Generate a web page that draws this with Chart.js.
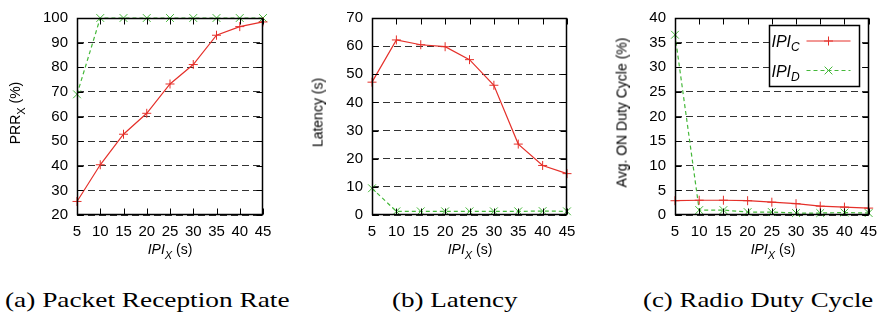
<!DOCTYPE html>
<html>
<head>
<meta charset="utf-8">
<script src="https://cdn.jsdelivr.net/npm/chart.js@4.4.0/dist/chart.umd.min.js"></script>
<style>
body { margin: 0; background: #fff; }
#page { position: relative; width: 885px; height: 321px; overflow: hidden; font-family: "Liberation Sans", Arial, sans-serif; color: #000; }
canvas { position: absolute; top: 0; }
.xt { position: absolute; top: 242px; width: 200px; text-align: center; font-size: 14px; line-height: 15px; }
.yt { position: absolute; width: 240px; text-align: center; font-size: 14px; line-height: 15px; transform: rotate(-90deg); }
.sb { font-size: 11px; position: relative; top: 5px; }
.cap { position: absolute; top: 290px; font-family: "Liberation Serif", serif; font-size: 21px; line-height: 21px; white-space: nowrap; transform-origin: left center; }
</style>
</head>
<body>
<div id="page">
  <canvas id="chartPrr" width="265" height="245" style="left:25px"></canvas>
  <canvas id="chartLat" width="270" height="245" style="left:320px"></canvas>
  <canvas id="chartDuty" width="262" height="245" style="left:623px"></canvas>

  <div class="yt" style="left:-104px;top:105px">PRR<span class="sb">X</span> (%)</div>
  <div class="yt" style="left:198px;top:105px">Latency (s)</div>
  <div class="yt" style="left:502px;top:105px">Avg. ON Duty Cycle (%)</div>

  <div class="xt" style="left:70px"><i>IPI<span class="sb">X</span></i> (s)</div>
  <div class="xt" style="left:370px"><i>IPI<span class="sb">X</span></i> (s)</div>
  <div class="xt" style="left:673px"><i>IPI<span class="sb">X</span></i> (s)</div>

  <div class="cap" style="left:5px" data-w="285">(a) Packet Reception Rate</div>
  <div class="cap" style="left:392px" data-w="125">(b) Latency</div>
  <div class="cap" style="left:643px" data-w="230">(c) Radio Duty Cycle</div>
</div>

<script>
// Datos
const ipi = [5, 10, 15, 20, 25, 30, 35, 40, 45];
const xTicks = [5, 10, 15, 20, 25, 30, 35, 40, 45];

const prrC = [25.5, 40.4, 52.8, 61.3, 73.2, 81.1, 93.0, 96.5, 98.4];
const prrD = [69.0, 100, 100, 100, 100, 100, 100, 100, 100];
const prrTicks = [20, 30, 40, 50, 60, 70, 80, 90, 100];

const latC = [47.2, 62.2, 60.5, 59.8, 55.2, 46.1, 25.2, 17.6, 14.7];
const latD = [9.5, 1.3, 1.3, 1.3, 1.3, 1.3, 1.3, 1.4, 1.3];
const latTicks = [0, 10, 20, 30, 40, 50, 60, 70];

const dutyC = [2.9, 3.0, 3.0, 2.9, 2.6, 2.3, 1.8, 1.6, 1.4];
const dutyD = [36.6, 1.0, 1.0, 0.6, 0.6, 0.4, 0.4, 0.5, 0.4];
const dutyTicks = [0, 5, 10, 15, 20, 25, 30, 35, 40];

const seriesSubs = ['C', 'D'];

const RED = '#e5302a';
const GREEN = '#45b83a';
const tickFont = { family: 'Liberation Sans', size: 15 };

// Marco estilo gnuplot: borde, marcas hacia dentro y leyenda
const gnuFrame = {
    id: 'gnuFrame',
    afterDraw(chart, args, opts) {
        const { ctx, chartArea: a, scales: { x, y } } = chart;
        const l = Math.round(a.left) + 0.5, r = Math.round(a.right) - 0.5;
        const t = Math.round(a.top) + 0.5, b = Math.round(a.bottom) - 0.5;
        ctx.save();
        ctx.strokeStyle = '#000';
        ctx.lineWidth = 1;
        ctx.beginPath();
        x.ticks.forEach(tk => {
            const px = Math.round(x.getPixelForValue(tk.value)) + 0.5;
            ctx.moveTo(px, b); ctx.lineTo(px, b - 6);
            ctx.moveTo(px, t); ctx.lineTo(px, t + 6);
        });
        y.ticks.forEach(tk => {
            const py = Math.round(y.getPixelForValue(tk.value)) + 0.5;
            ctx.moveTo(l, py); ctx.lineTo(l + 6, py);
            ctx.moveTo(r, py); ctx.lineTo(r - 6, py);
        });
        ctx.stroke();
        ctx.lineWidth = 1.5;
        ctx.strokeRect(l, t, r - l, b - t);

        if (opts.show) {
            const bx = Math.round(a.right) - 99.5, by = Math.round(a.top) + 7.5;
            ctx.lineWidth = 1.5;
            ctx.fillStyle = '#fff';
            ctx.fillRect(bx, by, 90, 61);
            ctx.strokeRect(bx, by, 90, 61);
            ctx.lineWidth = 1;
            chart.data.datasets.forEach((ds, i) => {
                const ry = by + 15.5 + i * 29.5;
                ctx.fillStyle = '#000';
                ctx.font = 'italic 16px "Liberation Sans"';
                ctx.textBaseline = 'alphabetic';
                ctx.fillText('IPI', bx + 2, ry + 6);
                const w = ctx.measureText('IPI').width;
                ctx.font = 'italic 12px "Liberation Sans"';
                ctx.fillText(seriesSubs[i], bx + 2 + w, ry + 10);

                ctx.strokeStyle = ds.borderColor;
                ctx.setLineDash(ds.borderDash || []);
                ctx.beginPath();
                ctx.moveTo(bx + 37, ry); ctx.lineTo(bx + 81, ry);
                ctx.stroke();
                ctx.setLineDash([]);
                Chart.helpers.drawPoint(ctx, {
                    pointStyle: ds.pointStyle, radius: ds.pointRadius,
                    rotation: 0, borderWidth: 1
                }, bx + 59, ry);
                ctx.strokeStyle = '#000';
            });
        }
        ctx.restore();
    }
};

function series(valuesC, valuesD) {
    return [
        {
            label: 'IPI_C',
            data: ipi.map((v, i) => ({ x: v, y: valuesC[i] })),
            borderColor: RED, borderWidth: 1.2,
            pointStyle: 'cross', pointRadius: 4.5,
            pointBorderColor: RED, pointBorderWidth: 1,
            clip: false
        },
        {
            label: 'IPI_D',
            data: ipi.map((v, i) => ({ x: v, y: valuesD[i] })),
            borderColor: GREEN, borderWidth: 1.2, borderDash: [4, 3],
            pointStyle: 'crossRot', pointRadius: 5.5,
            pointBorderColor: GREEN, pointBorderWidth: 1,
            clip: false
        }
    ];
}

function crearGrafica(id, valuesC, valuesD, yTicks, padRight, conLeyenda) {
    return new Chart(document.getElementById(id), {
        type: 'line',
        data: { datasets: series(valuesC, valuesD) },
        options: {
            responsive: false,
            animation: false,
            events: [],
            layout: { padding: { top: 10, right: padRight, left: 0, bottom: 0 } },
            plugins: {
                legend: { display: false },
                tooltip: { enabled: false },
                gnuFrame: { show: conLeyenda }
            },
            scales: {
                x: {
                    type: 'linear',
                    min: xTicks[0], max: xTicks[xTicks.length - 1],
                    afterBuildTicks: s => { s.ticks = xTicks.map(v => ({ value: v })); },
                    afterFit: s => { s.height = 30; },
                    grid: { display: false, drawTicks: false },
                    border: { display: false },
                    ticks: { font: tickFont, color: '#000', padding: 8, maxRotation: 0, autoSkip: false }
                },
                y: {
                    min: yTicks[0], max: yTicks[yTicks.length - 1],
                    afterBuildTicks: s => { s.ticks = yTicks.map(v => ({ value: v })); },
                    afterFit: s => { s.width = 52; },
                    grid: { color: '#333', lineWidth: 1, drawTicks: false },
                    border: { display: false, dash: [7, 4] },
                    ticks: { font: tickFont, color: '#000', padding: 9 }
                }
            }
        },
        plugins: [gnuFrame]
    });
}

crearGrafica('chartPrr', prrC, prrD, prrTicks, 27, false);
crearGrafica('chartLat', latC, latD, latTicks, 23, false);
crearGrafica('chartDuty', dutyC, dutyD, dutyTicks, 15, true);

// Ajustar ancho de los pies de figura
document.querySelectorAll('.cap').forEach(el => {
    const w = el.offsetWidth;
    el.style.transform = `scaleX(${el.dataset.w / w})`;
});
</script>
</body>
</html>
